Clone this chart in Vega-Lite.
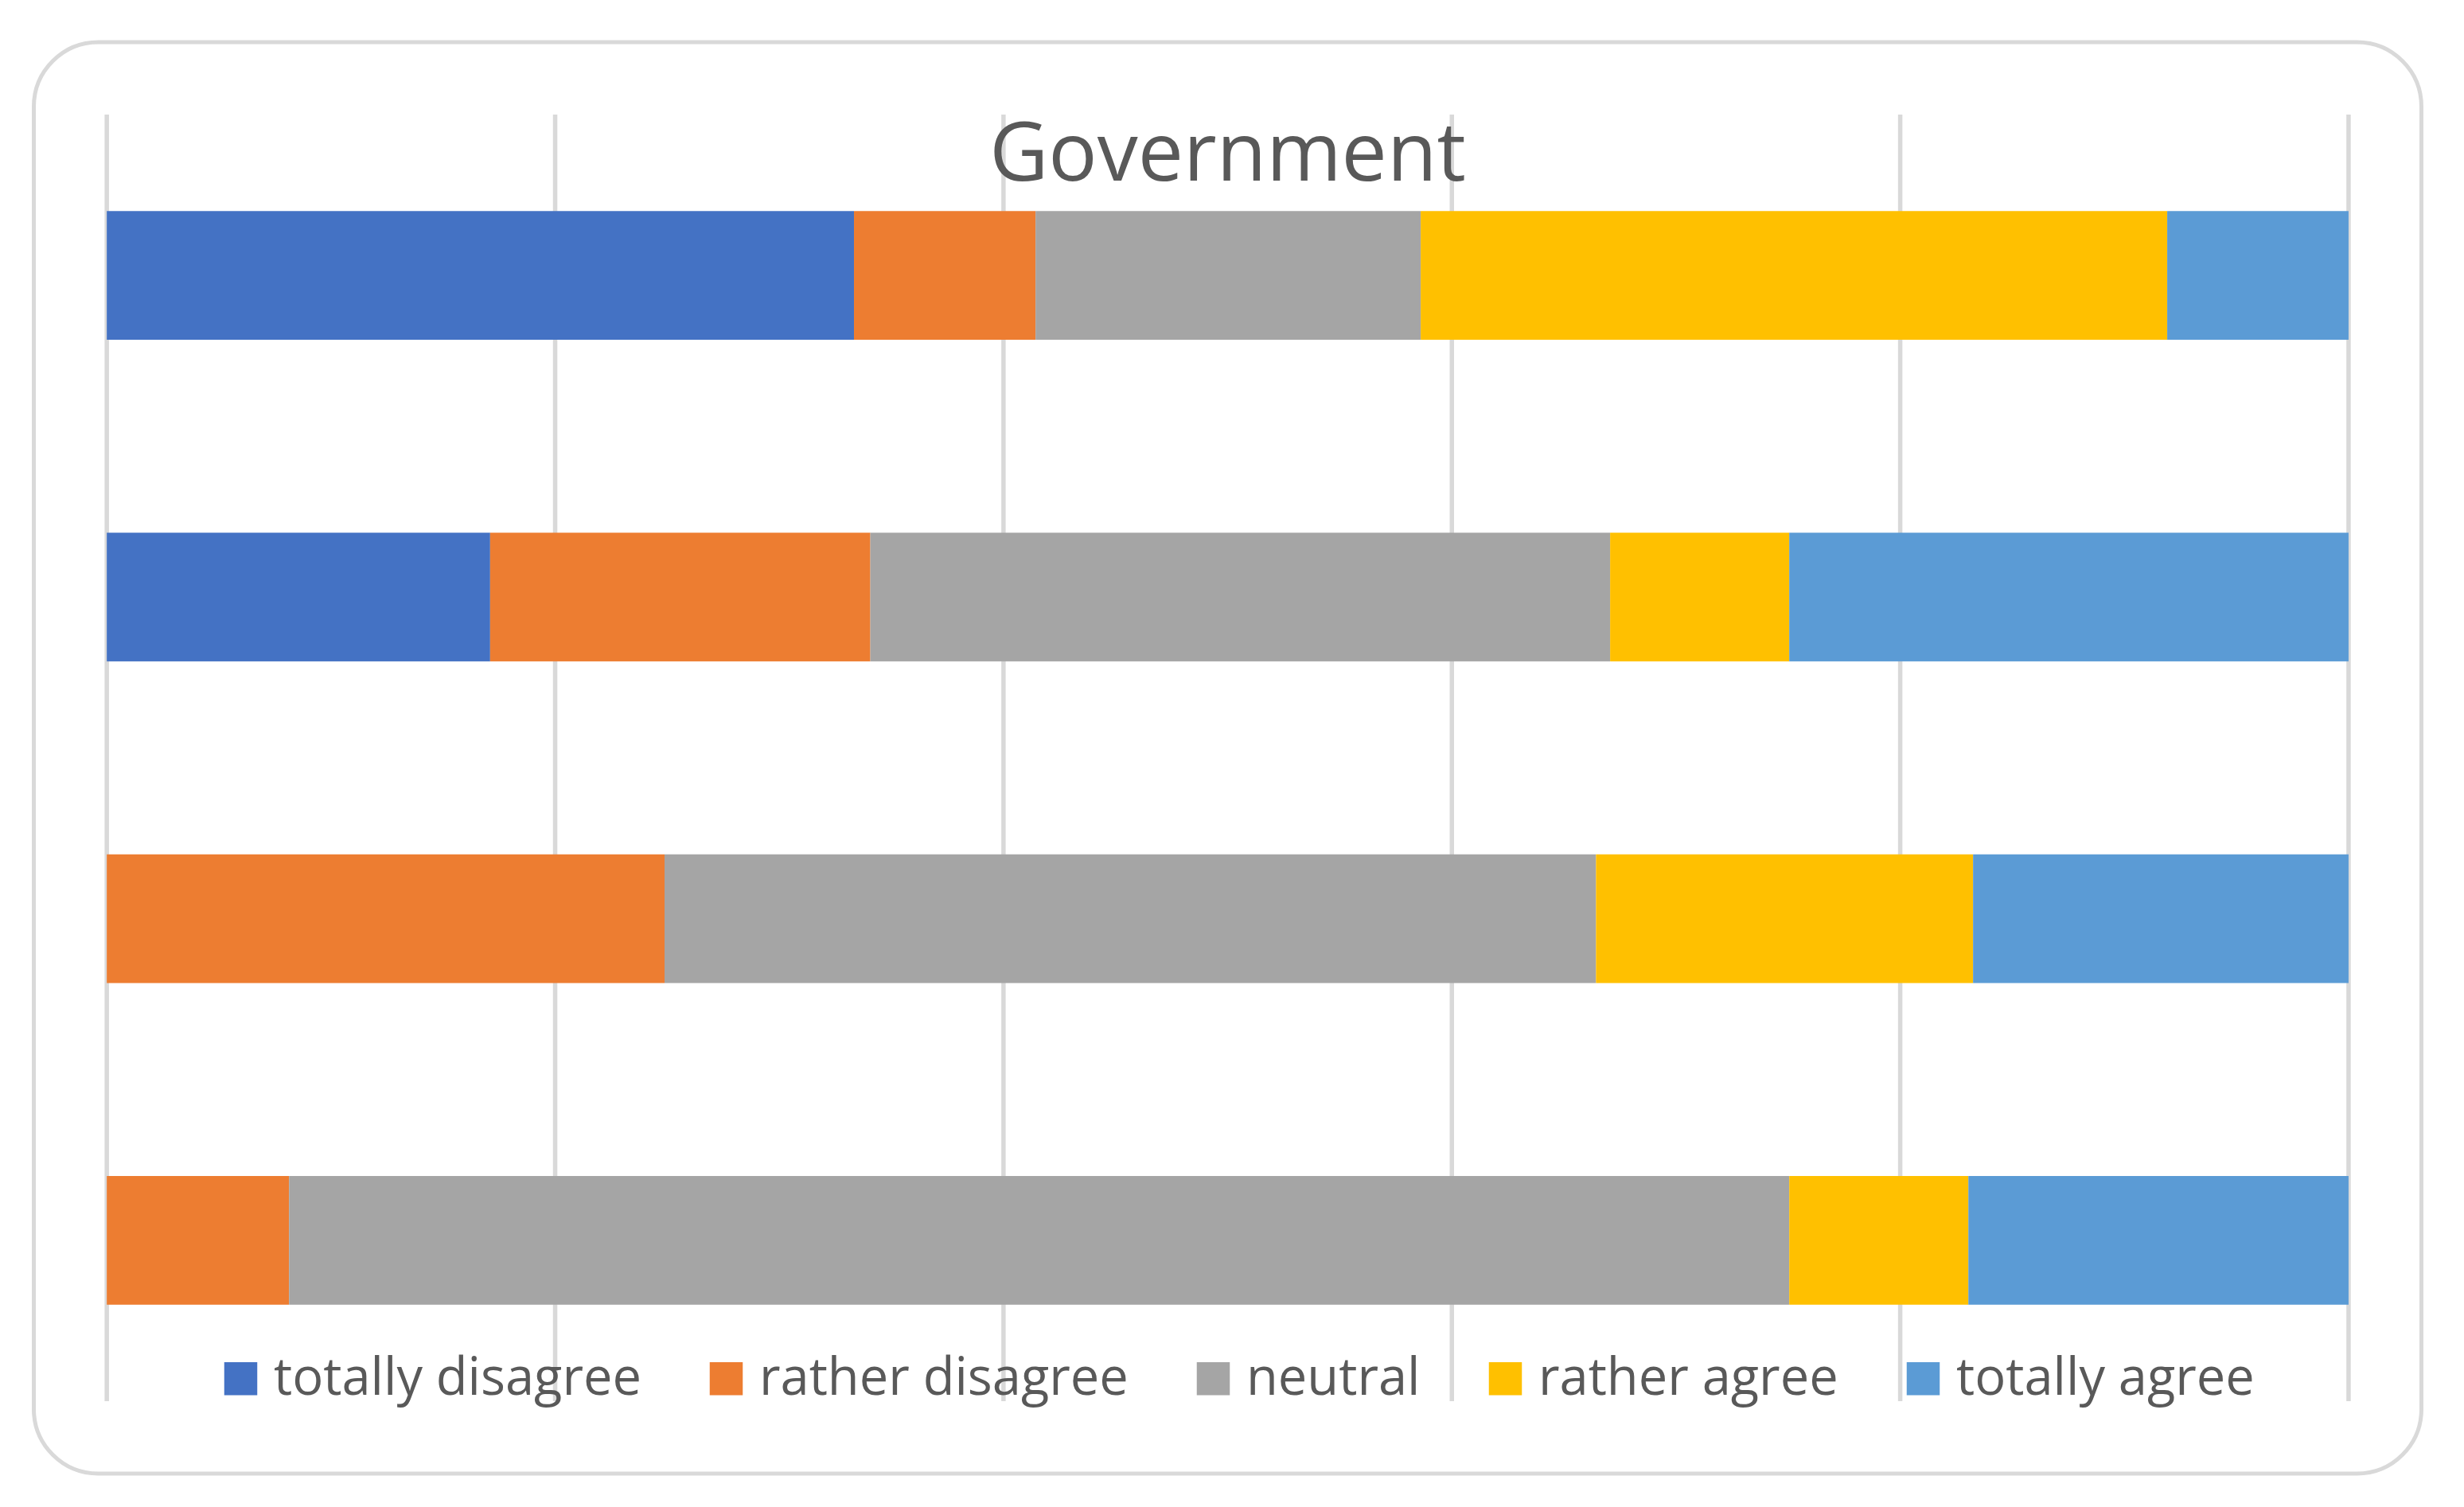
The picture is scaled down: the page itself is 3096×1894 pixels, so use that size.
{
  "$schema": "https://vega.github.io/schema/vega-lite/v6.json",
  "width": 3000,
  "height": 1799,
  "autosize": {"type": "none"},
  "padding": {"left": 42.5, "top": 53, "right": 53.5, "bottom": 42},
  "background": "#ffffff",
  "title": {
    "text": "Government",
    "anchor": "middle",
    "baseline": "alphabetic",
    "offset": -276,
    "font": "Open Sans",
    "fontSize": 102,
    "fontWeight": "normal",
    "color": "#595959"
  },
  "datasets": {
    "responses": [
      {"item": "Q1", "answer": "totally disagree", "level": 1, "pct": 33.33},
      {"item": "Q1", "answer": "rather disagree", "level": 2, "pct": 8.10},
      {"item": "Q1", "answer": "neutral", "level": 3, "pct": 17.18},
      {"item": "Q1", "answer": "rather agree", "level": 4, "pct": 33.30},
      {"item": "Q1", "answer": "totally agree", "level": 5, "pct": 8.09},
      {"item": "Q2", "answer": "totally disagree", "level": 1, "pct": 17.10},
      {"item": "Q2", "answer": "rather disagree", "level": 2, "pct": 16.96},
      {"item": "Q2", "answer": "neutral", "level": 3, "pct": 33.00},
      {"item": "Q2", "answer": "rather agree", "level": 4, "pct": 7.99},
      {"item": "Q2", "answer": "totally agree", "level": 5, "pct": 24.95},
      {"item": "Q3", "answer": "totally disagree", "level": 1, "pct": 0},
      {"item": "Q3", "answer": "rather disagree", "level": 2, "pct": 24.88},
      {"item": "Q3", "answer": "neutral", "level": 3, "pct": 41.55},
      {"item": "Q3", "answer": "rather agree", "level": 4, "pct": 16.82},
      {"item": "Q3", "answer": "totally agree", "level": 5, "pct": 16.75},
      {"item": "Q4", "answer": "totally disagree", "level": 1, "pct": 0},
      {"item": "Q4", "answer": "rather disagree", "level": 2, "pct": 8.13},
      {"item": "Q4", "answer": "neutral", "level": 3, "pct": 66.92},
      {"item": "Q4", "answer": "rather agree", "level": 4, "pct": 7.99},
      {"item": "Q4", "answer": "totally agree", "level": 5, "pct": 16.96}
    ],
    "grid": [
      {"tick": 0}, {"tick": 20}, {"tick": 40}, {"tick": 60}, {"tick": 80}, {"tick": 100}
    ]
  },
  "layer": [
    {
      "data": {"name": "grid"},
      "mark": {"type": "rule", "color": "#d9d9d9", "strokeWidth": 5.5},
      "encoding": {
        "x": {"field": "tick", "type": "quantitative", "scale": {"domain": [-3.255, 103.25], "nice": false, "zero": false}, "axis": null},
        "y": {"datum": 0, "type": "quantitative", "scale": {"domain": [-0.0563, 1.0563], "nice": false, "zero": false}, "axis": null},
        "y2": {"datum": 1}
      }
    },
    {
      "data": {"name": "responses"},
      "mark": {"type": "bar"},
      "encoding": {
        "y": {"field": "item", "type": "nominal", "sort": ["Q1", "Q2", "Q3", "Q4"], "scale": {"paddingInner": 0.6, "paddingOuter": 0.525}, "axis": null},
        "x": {"field": "pct", "type": "quantitative", "stack": "zero", "scale": {"domain": [-3.255, 103.25], "nice": false, "zero": false}, "axis": null},
        "color": {
          "field": "answer",
          "type": "nominal",
          "scale": {
            "domain": ["totally disagree", "rather disagree", "neutral", "rather agree", "totally agree"],
            "range": ["#4472C4", "#ED7D31", "#A5A5A5", "#FFC000", "#5B9BD5"]
          },
          "legend": {
            "orient": "none",
            "legendX": 227.5,
            "legendY": 1647,
            "direction": "horizontal",
            "title": null,
            "symbolType": "square",
            "symbolSize": 1722,
            "symbolStrokeWidth": 0,
            "labelFont": "Open Sans",
            "labelFontSize": 65,
            "labelColor": "#595959",
            "labelOffset": 9,
            "columnPadding": 74,
            "labelLimit": 0,
            "padding": 0
          }
        },
        "order": {"field": "level", "type": "ordinal"}
      }
    }
  ],
  "resolve": {"scale": {"y": "independent"}},
  "config": {
    "view": {"stroke": "#d9d9d9", "strokeWidth": 5, "cornerRadius": 81}
  }
}
